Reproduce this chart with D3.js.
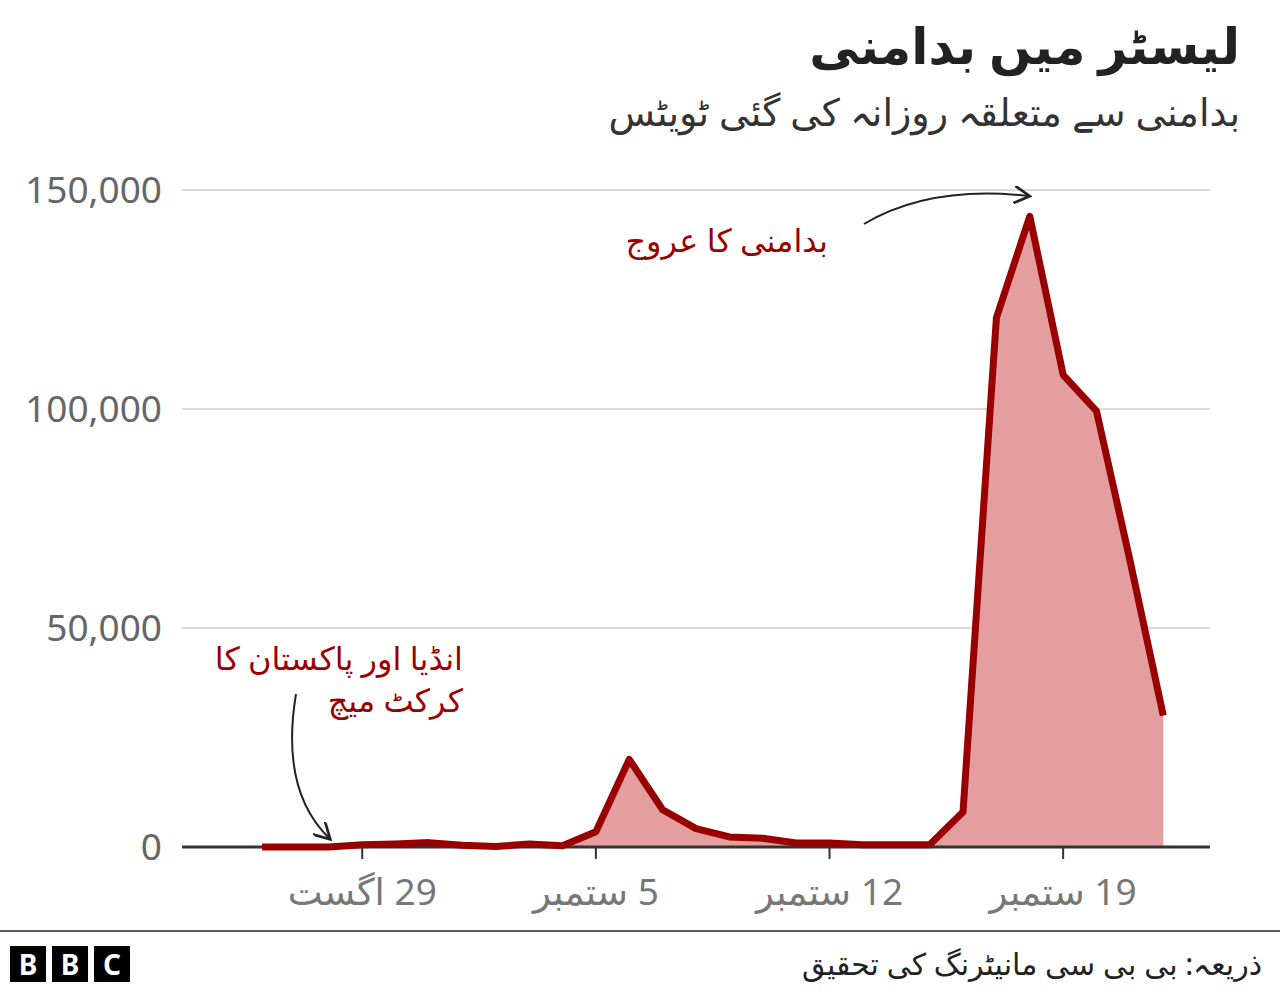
<!DOCTYPE html>
<html><head><meta charset="utf-8">
<script src="https://cdn.jsdelivr.net/npm/d3@7"></script>
<style>
body{margin:0;background:#fff}
text{font-family:"Noto Sans","DejaVu Sans",sans-serif}
</style></head><body>
<svg id="chart" width="1280" height="992"></svg>
<script>
// daily tweets, day 0 = 26 Aug 2022 .. day 27 = 22 Sep 2022
const tweets = [0, 0, 0, 500, 700, 1000, 400, 100, 700, 300, 3500, 20000, 8500, 4200,
  2300, 2000, 900, 900, 500, 500, 500, 8000, 120800, 144000, 107800, 99500, 65500, 30000]
const yTicks = [0, 50000, 100000, 150000]
const xTickDays = [3, 10, 17, 24]
const xTickLabels = ["29 اگست", "5 ستمبر", "12 ستمبر", "19 ستمبر"]

const data = tweets.map((v, i) => ({ day: i, value: v }))

const svg = d3.select("#chart")
const plotLeft = 182, plotRight = 1210, plotTop = 190, plotBottom = 847

const x = d3.scaleLinear().domain([-2.4, 28.4]).range([plotLeft, plotRight])
const y = d3.scaleLinear().domain([0, 150000]).range([plotBottom, plotTop])

svg.append("text").attr("x", 1240).attr("y", 64).attr("text-anchor", "end")
  .attr("font-size", 50).attr("font-weight", "bold").attr("fill", "#222").text("لیسٹر میں بدامنی")
svg.append("text").attr("x", 1240).attr("y", 126).attr("text-anchor", "end")
  .attr("font-size", 38).attr("fill", "#333").text("بدامنی سے متعلقہ روزانہ کی گئی ٹویٹس")

svg.append("g").selectAll("line").data(yTicks.slice(1)).join("line")
  .attr("x1", plotLeft).attr("x2", plotRight).attr("y1", y).attr("y2", y)
  .attr("stroke", "#ccc").attr("stroke-width", 1.5)
svg.append("g").selectAll("text").data(yTicks).join("text")
  .attr("x", 162).attr("y", d => y(d) + 13).attr("text-anchor", "end")
  .attr("font-size", 37).attr("fill", "#666").text(d3.format(","))

svg.append("path").datum(data)
  .attr("fill", "#e59e9f")
  .attr("d", d3.area().x(d => x(d.day)).y0(y(0)).y1(d => y(d.value)))
svg.append("line").attr("x1", plotLeft).attr("x2", plotRight).attr("y1", plotBottom).attr("y2", plotBottom)
  .attr("stroke", "#333").attr("stroke-width", 3)
svg.append("path").datum(data)
  .attr("fill", "none").attr("stroke", "#990000").attr("stroke-width", 7).attr("stroke-linejoin", "round")
  .attr("d", d3.line().x(d => x(d.day)).y(d => y(d.value)))

const xt = svg.append("g").selectAll("g").data(xTickDays).join("g")
  .attr("transform", d => `translate(${x(d)},${plotBottom})`)
xt.append("line").attr("y2", 12).attr("stroke", "#333").attr("stroke-width", 2)
xt.append("text").attr("y", 58).attr("text-anchor", "middle").attr("direction", "rtl")
  .attr("font-size", 37).attr("fill", "#777").text((d, i) => xTickLabels[i])

// annotations
svg.append("defs").append("marker").attr("id", "arr").attr("viewBox", "0 0 10 10")
  .attr("refX", 8).attr("refY", 5).attr("markerWidth", 9).attr("markerHeight", 9)
  .attr("orient", "auto-start-reverse")
  .append("path").attr("d", "M0,0 L9,5 L0,10").attr("fill", "none").attr("stroke", "#222").attr("stroke-width", 1.5)
svg.append("text").attr("x", 828).attr("y", 252).attr("text-anchor", "end")
  .attr("font-size", 32).attr("fill", "#990000").text("بدامنی کا عروج")
svg.append("path").attr("d", "M864,224 Q930,185 1028,196").attr("fill", "none")
  .attr("stroke", "#222").attr("stroke-width", 2).attr("marker-end", "url(#arr)")
svg.append("text").attr("x", 463).attr("y", 670).attr("text-anchor", "end")
  .attr("font-size", 32).attr("fill", "#990000").text("انڈیا اور پاکستان کا")
svg.append("text").attr("x", 463).attr("y", 712).attr("text-anchor", "end")
  .attr("font-size", 32).attr("fill", "#990000").text("کرکٹ میچ")
svg.append("path").attr("d", "M296,694 Q280,790 329,838").attr("fill", "none")
  .attr("stroke", "#222").attr("stroke-width", 2).attr("marker-end", "url(#arr)")

// footer
svg.append("line").attr("x1", 0).attr("x2", 1280).attr("y1", 931).attr("y2", 931).attr("stroke", "#222").attr("stroke-width", 1.5)
const bbc = svg.append("g").selectAll("g").data(["B", "B", "C"]).join("g")
  .attr("transform", (d, i) => `translate(${10 + i * 42},946)`)
bbc.append("rect").attr("width", 36).attr("height", 36).attr("fill", "#000")
bbc.append("text").attr("x", 18).attr("y", 29).attr("text-anchor", "middle")
  .attr("font-size", 28).attr("font-weight", "bold").attr("fill", "#fff").text(d => d)
svg.append("text").attr("x", 1262).attr("y", 975).attr("text-anchor", "end")
  .attr("font-size", 30).attr("fill", "#222").text("ذریعہ: بی بی سی مانیٹرنگ کی تحقیق")
</script></body></html>
